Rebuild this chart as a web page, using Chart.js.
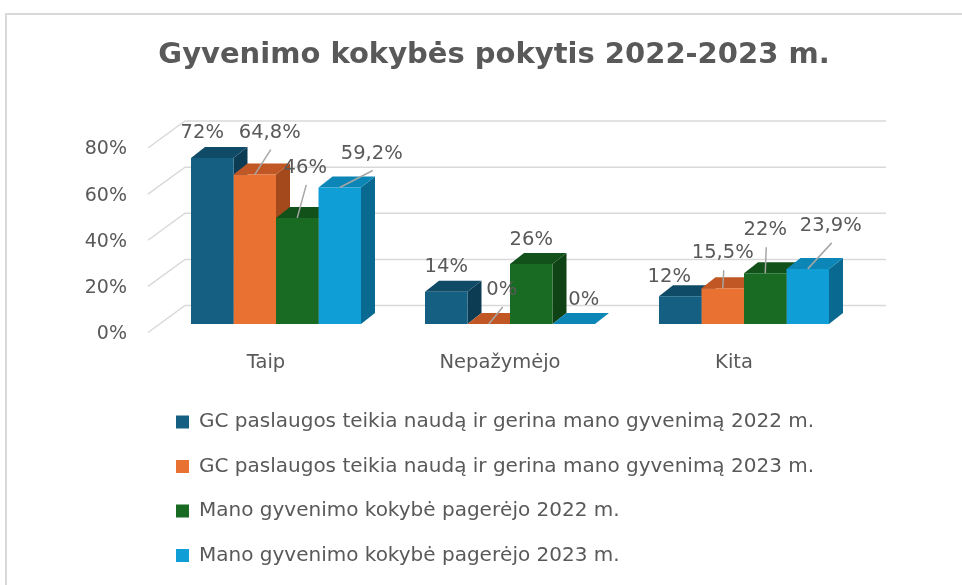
<!DOCTYPE html>
<html>
<head>
<meta charset="utf-8">
<script src="https://cdn.jsdelivr.net/npm/chart.js@4.4.0/dist/chart.umd.min.js"></script>
<style>
  html, body { margin: 0; padding: 0; background: #fff; overflow: hidden; width: 962px; height: 585px; }
  #frame { position: absolute; left: 5px; top: 13px; width: 1000px; height: 620px;
           border-top: 2px solid #d9d9d9; border-left: 2px solid #d9d9d9; }
  #chart { position: absolute; left: 0; top: 0; }
</style>
</head>
<body>
<div id="frame"></div>
<canvas id="chart" width="988" height="585"></canvas>
<script>
var categories = ["Taip", "Nepažymėjo", "Kita"];
var seriesNames = [
  "GC paslaugos teikia naudą ir gerina mano gyvenimą 2022 m.",
  "GC paslaugos teikia naudą ir gerina mano gyvenimą 2023 m.",
  "Mano gyvenimo kokybė pagerėjo 2022 m.",
  "Mano gyvenimo kokybė pagerėjo 2023 m."
];
var gc2022 = [72, 14, 12];
var gc2023 = [64.8, 0, 15.5];
var life2022 = [46, 26, 22];
var life2023 = [59.2, 0, 23.9];
var yTicks = [0, 20, 40, 60, 80];

// colours of the front, top and right faces of each series
var frontColors = ["#156082", "#e97132", "#196b24", "#0f9ed5"];
var topColors = ["#0f4a66", "#c05724", "#12511a", "#0b86b6"];
var sideColors = ["#0c3c54", "#a3491c", "#0f4316", "#0a6990"];

// where Excel put each data label, relative to the top of its bar
var labelShift = [
  [[-10, -25], [0, -25], [-11, -19]],
  [[15, -42], [13, -34], [0, -35]],
  [[8, -50], [0, -24], [0, -43]],
  [[32, -34], [10, -24], [23, -43]]
];

var DX = 14, DY = -11;
var GREY = "#595959";

function fmt(v) { return String(v).replace(".", ",") + "%"; }

function poly(ctx, pts) {
  ctx.beginPath();
  ctx.moveTo(pts[0][0], pts[0][1]);
  for (var k = 1; k < pts.length; k++) ctx.lineTo(pts[k][0], pts[k][1]);
  ctx.closePath();
  ctx.fill();
}

var bars3d = {
  id: "bars3d",
  afterLayout: function (chart) {
    // title is centred on the whole chart frame, not on the plot
    chart.titleBlock.left += 24;
    chart.titleBlock.right += 24;
    // legend rows sit left aligned under the plot
    var lg = chart.legend;
    var pad = lg.options.labels.padding;
    lg.left = 176 - pad;
    lg.top = 422 - pad - lg.options.labels.font.size / 2;
    lg.bottom = lg.top + lg.height;
  },
  beforeDatasetsDraw: function (chart) {
    var ctx = chart.ctx, ys = chart.scales.y, area = chart.chartArea;
    ctx.save();
    ctx.strokeStyle = "#d9d9d9";
    ctx.lineWidth = 1.5;
    ys.ticks.forEach(function (t) {
      var py = ys.getPixelForValue(t.value);
      ctx.beginPath();
      ctx.moveTo(area.left - 11, py + 8.5);
      ctx.lineTo(area.left + 26, py - 18.5);
      ctx.lineTo(area.right + 25, py - 18.5);
      ctx.stroke();
    });
    for (var i = 0; i < chart.data.labels.length; i++) {
      chart.data.datasets.forEach(function (ds, d) {
        var p = chart.getDatasetMeta(d).data[i].getProps(["x", "y", "base", "width"], true);
        var l = p.x - p.width / 2, r = p.x + p.width / 2;
        ctx.fillStyle = sideColors[d];
        poly(ctx, [[r, p.y], [r + DX, p.y + DY], [r + DX, p.base + DY], [r, p.base]]);
        ctx.fillStyle = topColors[d];
        poly(ctx, [[l, p.y], [l + DX, p.y + DY], [r + DX, p.y + DY], [r, p.y]]);
      });
    }
    ctx.restore();
  },
  afterDatasetsDraw: function (chart) {
    var ctx = chart.ctx;
    ctx.save();
    ctx.font = '19.5px "DejaVu Sans"';
    ctx.textAlign = "center";
    ctx.textBaseline = "middle";
    chart.data.datasets.forEach(function (ds, d) {
      chart.getDatasetMeta(d).data.forEach(function (el, i) {
        var s = labelShift[d][i];
        var lx = el.x + s[0], ly = el.y + s[1];
        if (s[1] < -30) {
          ctx.strokeStyle = "#a6a6a6";
          ctx.lineWidth = 1.5;
          ctx.beginPath();
          ctx.moveTo(lx + 1, ly + 17);
          ctx.lineTo(el.x, el.y);
          ctx.stroke();
        }
        ctx.fillStyle = GREY;
        ctx.fillText(fmt(ds.data[i]), lx, ly);
      });
    });
    ctx.restore();
  }
};

Chart.defaults.font.family = "DejaVu Sans";
Chart.defaults.color = GREY;

var seriesData = [gc2022, gc2023, life2022, life2023];

new Chart(document.getElementById("chart"), {
  type: "bar",
  data: {
    labels: categories,
    datasets: seriesData.map(function (vals, d) {
      return {
        label: seriesNames[d],
        data: vals,
        backgroundColor: frontColors[d],
        borderWidth: 0,
        categoryPercentage: 0.7265,
        barPercentage: 1
      };
    })
  },
  options: {
    responsive: false,
    animation: false,
    layout: { padding: { left: 79, right: 127, top: 0, bottom: 22.6 } },
    plugins: {
      title: {
        display: true,
        text: "Gyvenimo kokybės pokytis 2022-2023 m.",
        font: { family: "DejaVu Sans", size: 29, weight: "bold" },
        color: GREY,
        padding: { top: 38, bottom: 66.7 }
      },
      legend: {
        position: "bottom",
        align: "start",
        labels: {
          font: { family: "DejaVu Sans", size: 20 },
          color: GREY,
          boxWidth: 13,
          boxHeight: 13,
          padding: 24.5
        }
      },
      tooltip: { enabled: false }
    },
    scales: {
      x: {
        grid: { display: false, drawTicks: false },
        border: { display: false },
        afterFit: function (s) { s.height = 50.4; },
        ticks: { padding: 27, labelOffset: -10, font: { size: 19.5 }, color: GREY }
      },
      y: {
        min: 0,
        max: 80,
        grid: { display: false, drawTicks: false },
        border: { display: false },
        afterBuildTicks: function (s) { s.ticks = yTicks.map(function (v) { return { value: v }; }); },
        afterFit: function (s) { s.width = 80; },
        ticks: {
          padding: 32,
          labelOffset: 10,
          font: { size: 19 },
          color: GREY,
          callback: function (v) { return v + "%"; }
        }
      }
    }
  },
  plugins: [bars3d]
});
</script>
</body>
</html>
